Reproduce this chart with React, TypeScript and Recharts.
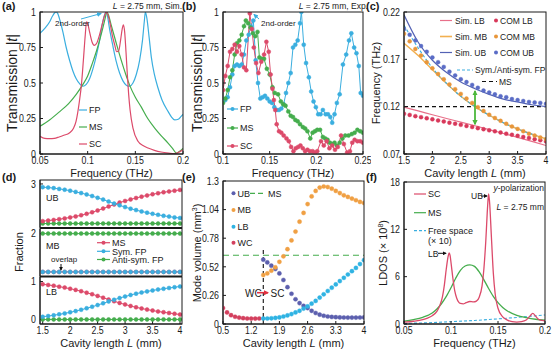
import React from 'react';
import { LineChart, Line, XAxis, YAxis, ReferenceLine } from 'recharts';

const FONT = '"Liberation Sans", Arial, Helvetica, sans-serif';
const INK = '#1a1a1a';

const BLUE = '#3aaedf';
const GREEN = '#45ad4d';
const RED = '#dc4a6a';

// (c) / (e) palette
const SIM_LB = '#e8708a';
const SIM_MB = '#f2b050';
const SIM_UB = '#5362b4';
const COM_LB = '#d8385a';
const COM_MB = '#e8963a';
const COM_UB = '#5a6cc6';
const E_UB = '#5c5fae';
const E_MB = '#f0a043';
const E_LB = '#2fb3e3';
const E_WC = '#d3405e';
const ARROW_GREEN = '#4cb83c';

// ---------- (a) simulated transmission, L = 2.75 mm ----------
const A_XTICKS = [0.05, 0.1, 0.15, 0.2];
const A_YTICKS = [0, 0.25, 0.5, 0.75, 1];
const A_FP = [
  [0.05, 0.85], [0.055, 0.885], [0.06, 0.93], [0.063, 0.97], [0.0655, 0.995], [0.0668, 1.0], [0.0685, 0.99],
  [0.071, 0.94], [0.074, 0.86], [0.0775, 0.75], [0.081, 0.66], [0.0845, 0.585], [0.088, 0.53], [0.0915, 0.495],
  [0.095, 0.477], [0.0985, 0.49], [0.102, 0.53], [0.1055, 0.6], [0.109, 0.69], [0.1125, 0.8], [0.1155, 0.92],
  [0.118, 0.985], [0.1192, 1.0], [0.1205, 0.98], [0.123, 0.88], [0.1265, 0.76], [0.13, 0.65], [0.1335, 0.57],
  [0.137, 0.515], [0.1405, 0.485], [0.144, 0.477], [0.1475, 0.5], [0.151, 0.56], [0.1545, 0.66], [0.1575, 0.8],
  [0.1595, 0.94], [0.1605, 1.0], [0.162, 0.96], [0.1645, 0.82], [0.1668, 0.68], [0.17, 0.56], [0.1738, 0.465],
  [0.178, 0.38], [0.1843, 0.3], [0.188, 0.26], [0.1913, 0.24], [0.195, 0.245], [0.198, 0.265], [0.2, 0.28],
];
const A_MS = [
  [0.05, 0.195], [0.06, 0.24], [0.07, 0.295], [0.08, 0.355], [0.088, 0.42], [0.095, 0.49], [0.1, 0.55],
  [0.105, 0.64], [0.109, 0.72], [0.1125, 0.8], [0.116, 0.89], [0.1185, 0.96], [0.12, 1.0], [0.1215, 0.985],
  [0.125, 0.9], [0.13, 0.78], [0.135, 0.665], [0.14, 0.56], [0.144, 0.485], [0.15, 0.4], [0.1563, 0.33],
  [0.163, 0.25], [0.1703, 0.183], [0.177, 0.13], [0.1843, 0.077], [0.189, 0.04], [0.193, 0.007],
  [0.1965, 0.02], [0.2, 0.04],
];
const A_SC = [
  [0.05, 0.125], [0.055, 0.11], [0.06, 0.108], [0.065, 0.11], [0.07, 0.12], [0.075, 0.132], [0.0808, 0.148],
  [0.085, 0.18], [0.0878, 0.23], [0.0913, 0.37], [0.0935, 0.49], [0.0955, 0.66], [0.0975, 0.84], [0.0988, 0.93],
  [0.1, 0.92], [0.102, 0.86], [0.1045, 0.79], [0.107, 0.765], [0.1095, 0.78], [0.1125, 0.84], [0.1155, 0.92],
  [0.118, 0.98], [0.1195, 1.0], [0.121, 0.985], [0.1235, 0.92], [0.126, 0.83], [0.1283, 0.77], [0.1305, 0.72],
  [0.1325, 0.725], [0.1345, 0.8], [0.1362, 0.88], [0.1375, 0.91], [0.1388, 0.86], [0.1402, 0.72],
  [0.1416, 0.56], [0.143, 0.42], [0.1445, 0.31], [0.1476, 0.18], [0.1528, 0.09], [0.158, 0.06],
  [0.1633, 0.042], [0.17, 0.026], [0.177, 0.014], [0.185, 0.006], [0.191, 0.002], [0.1955, 0.012], [0.2, 0.03],
];

// ---------- (b) measured transmission ----------
const B_XTICKS = [0.1, 0.15, 0.2, 0.25];
const B_YTICKS = [0, 0.25, 0.5, 0.75, 1];
const B_FP = [
  [0.1, 0.37], [0.1025, 0.38], [0.105, 0.4], [0.1075, 0.47], [0.11, 0.56], [0.1125, 0.62], [0.115, 0.63],
  [0.1175, 0.62], [0.12, 0.63], [0.1225, 0.7], [0.125, 0.8], [0.1275, 0.84], [0.13, 0.9], [0.1325, 0.94],
  [0.135, 0.66], [0.1375, 0.5], [0.14, 0.39], [0.1425, 0.4], [0.145, 0.41], [0.1475, 0.39], [0.15, 0.37],
  [0.1525, 0.36], [0.155, 0.33], [0.1575, 0.31], [0.16, 0.31], [0.1625, 0.32], [0.165, 0.35], [0.1675, 0.43],
  [0.17, 0.5], [0.1725, 0.57], [0.175, 0.75], [0.1775, 0.77], [0.18, 0.8], [0.1825, 0.92], [0.184, 1.0],
  [0.1865, 0.77], [0.189, 0.64], [0.192, 0.54], [0.1945, 0.44], [0.197, 0.37], [0.1995, 0.33], [0.202, 0.28],
  [0.2045, 0.28], [0.207, 0.31], [0.21, 0.28], [0.2125, 0.28], [0.215, 0.26], [0.217, 0.22], [0.2195, 0.28],
  [0.222, 0.36], [0.225, 0.42], [0.2285, 0.63], [0.232, 0.7], [0.235, 0.8], [0.2375, 0.85], [0.2405, 0.75],
  [0.243, 0.71], [0.2455, 0.62], [0.2475, 0.43], [0.25, 0.41],
];
const B_MS = [
  [0.1, 0.36], [0.1025, 0.39], [0.105, 0.45], [0.1075, 0.54], [0.11, 0.59], [0.1125, 0.7], [0.115, 0.78],
  [0.1175, 0.8], [0.12, 0.84], [0.1225, 0.9], [0.1245, 0.94], [0.127, 0.92], [0.1295, 0.89], [0.132, 0.85],
  [0.1345, 0.83], [0.137, 0.86], [0.139, 0.68], [0.1415, 0.67], [0.144, 0.67], [0.147, 0.6], [0.15, 0.56],
  [0.153, 0.47], [0.1555, 0.43], [0.159, 0.42], [0.162, 0.37], [0.1645, 0.35], [0.167, 0.34], [0.17, 0.3],
  [0.1725, 0.27], [0.175, 0.26], [0.1775, 0.24], [0.18, 0.23], [0.1825, 0.21], [0.1855, 0.19], [0.188, 0.18],
  [0.1905, 0.16], [0.1935, 0.11], [0.196, 0.15], [0.1985, 0.16], [0.201, 0.17], [0.204, 0.17], [0.207, 0.12],
  [0.2095, 0.11], [0.212, 0.1], [0.2145, 0.08], [0.217, 0.07], [0.2195, 0.08], [0.222, 0.06], [0.225, 0.08],
  [0.228, 0.11], [0.231, 0.13], [0.2345, 0.13], [0.238, 0.14], [0.241, 0.15], [0.244, 0.17], [0.247, 0.16],
  [0.25, 0.15],
];
const B_SC = [
  [0.1, 0.45], [0.1025, 0.55], [0.105, 0.62], [0.1075, 0.72], [0.11, 0.74], [0.1125, 0.77], [0.115, 0.72],
  [0.1175, 0.76], [0.12, 0.7], [0.1225, 0.61], [0.125, 0.59], [0.1287, 0.99], [0.131, 0.88], [0.133, 0.75],
  [0.1355, 0.64], [0.138, 0.57], [0.141, 0.65], [0.144, 0.7], [0.1465, 0.79], [0.149, 0.72], [0.151, 0.56],
  [0.153, 0.46], [0.1545, 0.38], [0.156, 0.31], [0.1575, 0.21], [0.16, 0.16], [0.1625, 0.15], [0.165, 0.13],
  [0.168, 0.11], [0.1705, 0.09], [0.173, 0.05], [0.1755, 0.02], [0.178, 0.04], [0.1805, 0.05], [0.183, 0.06],
  [0.1855, 0.04], [0.188, 0.02], [0.1905, 0.03], [0.193, 0.02], [0.196, 0.02], [0.1985, 0.01], [0.201, 0.02],
  [0.205, 0.09], [0.208, 0.06], [0.211, 0.09], [0.214, 0.04], [0.217, 0.06], [0.22, 0.03], [0.223, 0.05],
  [0.2265, 0.13], [0.2295, 0.07], [0.233, 0.01], [0.236, 0.02], [0.2385, 0.08], [0.241, 0.1], [0.244, 0.09],
  [0.247, 0.09], [0.25, 0.08],
];

// ---------- (c) dispersion vs cavity length ----------
const C_XTICKS = [1.5, 2, 2.5, 3, 3.5, 4];
const C_YTICKS = [0.07, 0.12, 0.17, 0.22];
const L_SIM = [1.5, 1.75, 2, 2.25, 2.5, 2.75, 3, 3.25, 3.5, 3.75, 4];
const C_SIM_LB = [0.1195, 0.1155, 0.1115, 0.1075, 0.1037, 0.0998, 0.0958, 0.0917, 0.0876, 0.0834, 0.079];
const C_SIM_MB = [0.187, 0.174, 0.159, 0.1445, 0.131, 0.12, 0.111, 0.103, 0.0965, 0.091, 0.086];
const C_SIM_UB = [0.217, 0.188, 0.169, 0.156, 0.146, 0.139, 0.133, 0.128, 0.125, 0.122, 0.12];
const C_FP = [0.206, 0.182, 0.161, 0.1445, 0.131, 0.12, 0.111, 0.103, 0.0965, 0.091, 0.086];
const C_MS_LEVEL = 0.12;
const L_COM = [1.5, 1.6, 1.7, 1.8, 1.9, 2.0, 2.1, 2.2, 2.3, 2.4, 2.5, 2.6, 2.7, 2.8, 2.9, 3.0, 3.1, 3.2, 3.3, 3.4, 3.5, 3.6, 3.7, 3.8, 3.9, 4.0];
const C_COM_LB = [0.1125, 0.1113, 0.11, 0.1089, 0.1077, 0.1066, 0.1054, 0.1043, 0.1031, 0.102, 0.1008, 0.0996, 0.0985, 0.0973, 0.0962, 0.095, 0.0939, 0.0927, 0.0915, 0.0904, 0.0892, 0.088, 0.0868, 0.0856, 0.0845, 0.0833];
const C_COM_MB = [0.197, 0.189, 0.181, 0.174, 0.167, 0.1605, 0.1545, 0.149, 0.1435, 0.1385, 0.1335, 0.1285, 0.124, 0.1195, 0.1155, 0.1115, 0.108, 0.105, 0.102, 0.099, 0.0965, 0.094, 0.0915, 0.0895, 0.0875, 0.0855];
const C_COM_UB = [0.202, 0.196, 0.19, 0.184, 0.178, 0.172, 0.167, 0.162, 0.157, 0.153, 0.149, 0.146, 0.143, 0.14, 0.137, 0.135, 0.133, 0.131, 0.13, 0.128, 0.127, 0.126, 0.125, 0.1245, 0.124, 0.123];

// ---------- (d) Hopfield fractions ----------
const D_XTICKS = [1.5, 2, 2.5, 3, 3.5, 4];
const D_UB_MS = [0.06, 0.075, 0.09, 0.11, 0.13, 0.155, 0.18, 0.21, 0.245, 0.285, 0.33, 0.38, 0.43, 0.48, 0.53, 0.57, 0.61, 0.645, 0.68, 0.71, 0.74, 0.765, 0.79, 0.81, 0.83, 0.85];
const D_UB_SFP = [0.92, 0.91, 0.895, 0.875, 0.855, 0.83, 0.8, 0.77, 0.735, 0.695, 0.65, 0.605, 0.555, 0.505, 0.46, 0.415, 0.375, 0.34, 0.305, 0.275, 0.245, 0.22, 0.195, 0.175, 0.155, 0.14];
const D_LB_MS = [0.93, 0.91, 0.89, 0.865, 0.84, 0.81, 0.78, 0.745, 0.705, 0.665, 0.62, 0.575, 0.525, 0.48, 0.435, 0.395, 0.355, 0.32, 0.29, 0.26, 0.235, 0.21, 0.19, 0.17, 0.15, 0.13];
const D_LB_SFP = [0.07, 0.09, 0.11, 0.135, 0.16, 0.19, 0.22, 0.255, 0.295, 0.335, 0.38, 0.425, 0.475, 0.52, 0.565, 0.605, 0.645, 0.68, 0.71, 0.74, 0.765, 0.79, 0.81, 0.83, 0.85, 0.87];
const D_ZERO = [0, 0, 0, 0, 0, 0, 0, 0, 0, 0, 0, 0, 0, 0, 0, 0, 0, 0, 0, 0, 0, 0, 0, 0, 0, 0];
const D_ONE = [1, 1, 1, 1, 1, 1, 1, 1, 1, 1, 1, 1, 1, 1, 1, 1, 1, 1, 1, 1, 1, 1, 1, 1, 1, 1];

// ---------- (e) mode volume ----------
const E_XTICKS = [0.5, 1.2, 1.9, 2.6, 3.3, 4];
const E_YTICKS = [0, 0.26, 0.52, 0.78, 1.04, 1.3];
const L_WC = [0.5, 0.6, 0.7, 0.8, 0.9, 1.0, 1.1, 1.2, 1.3, 1.4];
const E_WC_V = [0.145, 0.105, 0.08, 0.066, 0.058, 0.053, 0.05, 0.049, 0.049, 0.05];
const E_UB_V = [0.585, 0.56, 0.53, 0.5, 0.46, 0.4, 0.335, 0.275, 0.225, 0.19, 0.165, 0.145, 0.12, 0.1, 0.085, 0.075, 0.068, 0.064, 0.062, 0.06, 0.059, 0.058, 0.058, 0.058, 0.059, 0.06];
const E_MB_V = [0.445, 0.46, 0.485, 0.515, 0.565, 0.615, 0.68, 0.76, 0.84, 0.93, 1.01, 1.09, 1.16, 1.21, 1.24, 1.25, 1.245, 1.23, 1.21, 1.19, 1.17, 1.155, 1.14, 1.125, 1.11, 1.1];
const E_LB_V = [0.05, 0.05, 0.052, 0.055, 0.06, 0.068, 0.078, 0.09, 0.105, 0.12, 0.14, 0.16, 0.185, 0.21, 0.24, 0.27, 0.3, 0.33, 0.36, 0.39, 0.42, 0.45, 0.48, 0.51, 0.545, 0.58];
const E_MS_LEVEL = 0.625;
const E_BORDER_L = 1.5;

// ---------- (f) LDOS ----------
const F_XTICKS = [0.05, 0.1, 0.15, 0.2];
const F_YTICKS = [0, 6, 12, 18];
const F_SC = [
  [0.05, 0.25], [0.06, 0.35], [0.07, 0.55], [0.075, 0.75], [0.08, 1.05], [0.085, 1.6], [0.088, 2.3],
  [0.091, 3.5], [0.093, 5.0], [0.095, 7.0], [0.097, 8.6], [0.098, 9.0], [0.099, 8.7], [0.1, 7.8],
  [0.102, 5.8], [0.104, 4.2], [0.106, 3.3], [0.108, 2.8], [0.11, 2.6], [0.113, 2.55], [0.116, 2.7],
  [0.12, 2.85], [0.124, 2.8], [0.127, 2.9], [0.13, 3.4], [0.133, 4.8], [0.135, 7.0], [0.137, 10.5],
  [0.139, 15.0], [0.14, 16.5], [0.141, 15.5], [0.143, 11.0], [0.145, 6.5], [0.147, 3.8], [0.15, 2.0],
  [0.155, 0.9], [0.16, 0.5], [0.165, 0.3], [0.17, 0.25], [0.175, 0.3], [0.18, 0.5], [0.184, 1.0],
  [0.187, 1.35], [0.19, 1.0], [0.193, 0.6], [0.197, 0.45], [0.2, 0.4],
];
const F_MS = [
  [0.05, 0.35], [0.06, 0.55], [0.07, 0.85], [0.08, 1.4], [0.085, 1.9], [0.09, 2.6], [0.095, 3.5], [0.1, 4.6],
  [0.105, 5.8], [0.11, 6.8], [0.115, 7.35], [0.12, 7.5], [0.125, 7.3], [0.13, 6.6], [0.135, 5.6], [0.14, 4.5],
  [0.145, 3.5], [0.15, 2.7], [0.155, 2.1], [0.16, 1.65], [0.17, 1.1], [0.18, 0.8], [0.19, 0.6], [0.2, 0.5],
];
const F_FREE = [
  [0.05, 0.07], [0.075, 0.16], [0.1, 0.29], [0.125, 0.45], [0.15, 0.65], [0.175, 0.88], [0.2, 1.15],
];

const pairs = (p: number[][]) => p.map(([x, y]) => ({ x, y }));
const zip = (xs: number[], ys: number[]) => xs.map((x, i) => ({ x, y: ys[i] }));

type Box = { x0: number; y0: number; x1: number; y1: number };
const A_BOX: Box = { x0: 40, y0: 12, x1: 183, y1: 154 };
const B_BOX: Box = { x0: 223, y0: 12, x1: 363, y1: 154 };
const C_BOX: Box = { x0: 404, y0: 12, x1: 546, y1: 154 };
const DU_BOX: Box = { x0: 40, y0: 180, x1: 182, y1: 227.5 };
const DM_BOX: Box = { x0: 40, y0: 228.5, x1: 182, y1: 276 };
const DL_BOX: Box = { x0: 40, y0: 277, x1: 182, y1: 324 };
const E_BOX: Box = { x0: 223, y0: 181, x1: 364, y1: 324 };
const F_BOX: Box = { x0: 404, y0: 182, x1: 545, y1: 324 };

const PL = 40, PT = 6, PR = 8, PB = 22;

const fmt = (v: number) => String(v);

const makeXTick = (show: boolean) => (p: any) =>
  show ? (
    <text transform={`translate(${p.x},${p.y}) scale(0.8,1)`} dy="0.62em" textAnchor="middle" fontSize={11} fill={INK} fontFamily={FONT}>
      {fmt(p.payload.value)}
    </text>
  ) : <g />;

const makeYTick = (f: (v: number) => string) => (p: any) => (
  <text transform={`translate(${p.x},${p.y}) scale(0.8,1)`} dy="0.34em" textAnchor="end" fontSize={11} fill={INK} fontFamily={FONT}>
    {f(p.payload.value)}
  </text>
);

function Plot({ box, xDomain, yDomain, xTicks, yTicks, yFmt = fmt, showX = true, children }: any) {
  const w = box.x1 - box.x0 + PL + PR;
  const h = box.y1 - box.y0 + PT + PB;
  return (
    <div style={{ position: 'absolute', left: box.x0 - PL, top: box.y0 - PT, width: w, height: h }}>
      <LineChart width={w} height={h} margin={{ top: PT, right: PR, bottom: 0, left: 0 }}>
        <XAxis type="number" dataKey="x" domain={xDomain} ticks={xTicks} interval={0} allowDataOverflow
          height={PB} stroke={INK} tickSize={-3} tickMargin={6} tickLine={showX} tick={makeXTick(showX)} />
        <YAxis type="number" domain={yDomain} ticks={yTicks} interval={0} allowDataOverflow width={PL}
          stroke={INK} tickSize={-3} tickMargin={7} tick={makeYTick(yFmt)} />
        {children}
      </LineChart>
    </div>
  );
}

const lineProps = { dot: false, activeDot: false, isAnimationActive: false, dataKey: 'y' } as const;
const dotOnly = (c: string, r = 2) => ({
  dataKey: 'y', stroke: 'none', activeDot: false, isAnimationActive: false,
  dot: { r, fill: c, stroke: c, strokeWidth: 0.4 },
} as const);
const dotLine = (c: string, r = 2) => ({
  dataKey: 'y', type: 'linear', stroke: c, strokeWidth: 1, activeDot: false, isAnimationActive: false,
  dot: { r, fill: c, stroke: c, strokeWidth: 0.5 },
} as const);

const T = (props: any) => <text fontFamily={FONT} fill={INK} {...props} />;

function LegLine({ x, y, c, dash, label, w = 10, dot }: any) {
  return (
    <g>
      <line x1={x} y1={y} x2={x + w} y2={y} stroke={c} strokeWidth={1.2} strokeDasharray={dash} />
      {dot && <circle cx={x + w / 2} cy={y} r={2} fill={c} />}
      <T x={x + w + 2} y={y + 3.2} fontSize={9}>{label}</T>
    </g>
  );
}

function Overlay() {
  const frame = (b: Box) => (
    <rect x={b.x0} y={b.y0} width={b.x1 - b.x0} height={b.y1 - b.y0} fill="none" stroke={INK} strokeWidth={1} />
  );
  return (
    <svg width={554} height={349} style={{ position: 'absolute', left: 0, top: 0, pointerEvents: 'none' }}>
      {frame(A_BOX)}{frame(B_BOX)}{frame(C_BOX)}{frame(DU_BOX)}{frame(DM_BOX)}{frame(DL_BOX)}{frame(E_BOX)}{frame(F_BOX)}

      {/* panel letters */}
      <T x={2} y={10} fontSize={11} fontWeight="bold">(a)</T>
      <T x={182} y={10} fontSize={11} fontWeight="bold">(b)</T>
      <T x={366} y={10} fontSize={11} fontWeight="bold">(c)</T>
      <T x={2} y={181} fontSize={11} fontWeight="bold">(d)</T>
      <T x={182} y={181} fontSize={11} fontWeight="bold">(e)</T>
      <T x={366} y={181} fontSize={11} fontWeight="bold">(f)</T>

      {/* (a) */}
      <T x={182} y={9} fontSize={8.5} textAnchor="end"><tspan fontStyle="italic">L</tspan> = 2.75 mm, Sim.</T>
      <T x={55} y={26} fontSize={8}>2nd-order</T>
      <line x1={81} y1={19} x2={101} y2={13.5} stroke={BLUE} strokeWidth={1} markerEnd="url(#arB)" />
      <LegLine x={79} y={110} c={BLUE} label="FP" w={8} />
      <LegLine x={79} y={127} c={GREEN} label="MS" w={8} />
      <LegLine x={79} y={144} c={RED} label="SC" w={8} />
      <T x={111.5} y={176.5} fontSize={11} textAnchor="middle">Frequency (THz)</T>
      <T transform="translate(17,83) rotate(-90)" fontSize={14} textAnchor="middle">Transmission |<tspan fontStyle="italic">t</tspan>|</T>

      {/* (b) */}
      <T x={368} y={9} fontSize={8.5} textAnchor="end"><tspan fontStyle="italic">L</tspan> = 2.75 mm, Exp.</T>
      <T x={261} y={26} fontSize={8}>2nd-order</T>
      <line x1={259} y1={19} x2={254} y2={14.5} stroke={BLUE} strokeWidth={1} markerEnd="url(#arB)" />
      <LegLine x={227} y={109} c={BLUE} label="FP" w={11} dot />
      <LegLine x={227} y={128} c={GREEN} label="MS" w={11} dot />
      <LegLine x={227} y={146} c={RED} label="SC" w={11} dot />
      <T x={293} y={176.5} fontSize={11} textAnchor="middle">Frequency (THz)</T>
      <T transform="translate(202,83) rotate(-90)" fontSize={14} textAnchor="middle">Transmission |<tspan fontStyle="italic">t</tspan>|</T>

      {/* (c) legend */}
      <g>
        <line x1={440} y1={20.5} x2={452} y2={20.5} stroke={SIM_LB} strokeWidth={1.2} />
        <T x={455} y={23.5} fontSize={8.5}>Sim. LB</T>
        <circle cx={496} cy={20.5} r={2} fill={COM_LB} />
        <T x={500} y={23.5} fontSize={8.5}>COM LB</T>
        <line x1={440} y1={36.5} x2={452} y2={36.5} stroke={SIM_MB} strokeWidth={1.6} />
        <T x={455} y={39.5} fontSize={8.5}>Sim. MB</T>
        <circle cx={496} cy={36.5} r={2} fill={COM_MB} />
        <T x={500} y={39.5} fontSize={8.5}>COM MB</T>
        <line x1={440} y1={52.5} x2={452} y2={52.5} stroke={SIM_UB} strokeWidth={1.2} />
        <T x={455} y={55.5} fontSize={8.5}>Sim. UB</T>
        <circle cx={496} cy={52.5} r={2} fill={COM_UB} />
        <T x={500} y={55.5} fontSize={8.5}>COM UB</T>
        <line x1={457} y1={70} x2={473} y2={70} stroke={BLUE} strokeWidth={1.1} strokeDasharray="3 2" />
        <T x={475} y={73} fontSize={8.5}>Sym./Anti-sym. FP</T>
        <line x1={482} y1={81.5} x2={497} y2={81.5} stroke="#111" strokeWidth={1.1} strokeDasharray="4 3" />
        <T x={499} y={84.5} fontSize={8.5}>MS</T>
      </g>
      <T x={475} y={176.5} fontSize={11} textAnchor="middle">Cavity length <tspan fontStyle="italic">L</tspan> (mm)</T>
      <T transform="translate(380,83) rotate(-90)" fontSize={11} textAnchor="middle">Frequency (THz)</T>

      {/* (d) */}
      <T x={46} y={201} fontSize={9}>UB</T>
      <T x={46} y={249} fontSize={9}>MB</T>
      <T x={46} y={295} fontSize={9}>LB</T>
      <LegLine x={97} y={242.7} c={RED} label="MS" w={13} dot />
      <LegLine x={97} y={251.3} c={BLUE} label="Sym. FP" w={13} dot />
      <LegLine x={97} y={259.5} c={GREEN} label="Anti-sym. FP" w={13} dot />
      <T x={51} y={262} fontSize={8}>overlap</T>
      <line x1={61} y1={264} x2={61} y2={270} stroke="#111" strokeWidth={1} markerEnd="url(#arK)" />
      <T transform="translate(23,252) rotate(-90)" fontSize={11} textAnchor="middle">Fraction</T>
      <T x={111} y={347} fontSize={11} textAnchor="middle">Cavity length <tspan fontStyle="italic">L</tspan> (mm)</T>

      {/* (e) */}
      <circle cx={233.5} cy={193.3} r={2} fill={E_UB} />
      <T x={237.5} y={196.5} fontSize={9}>UB</T>
      <line x1={250} y1={193.3} x2={266} y2={193.3} stroke={GREEN} strokeWidth={1.2} strokeDasharray="5 3" />
      <T x={268} y={196.5} fontSize={9}>MS</T>
      <circle cx={233.5} cy={210} r={2} fill={E_MB} />
      <T x={237.5} y={213.2} fontSize={9}>MB</T>
      <circle cx={233.5} cy={226.7} r={2} fill={E_LB} />
      <T x={237.5} y={229.9} fontSize={9}>LB</T>
      <circle cx={233.5} cy={242.7} r={2} fill={E_WC} />
      <T x={237.5} y={245.9} fontSize={9}>WC</T>
      <T x={245} y={296.5} fontSize={10}>WC</T>
      <line x1={257} y1={292.7} x2={268} y2={292.7} stroke="#e03040" strokeWidth={1.6} markerEnd="url(#arR)" />
      <T x={270.5} y={296.5} fontSize={10}>SC</T>
      <T transform="translate(201,253) rotate(-90)" fontSize={11} textAnchor="middle">Mode volume (mm<tspan fontSize={7} dy={-4}>3</tspan><tspan dy={4}>)</tspan></T>
      <T x={293.5} y={347} fontSize={11} textAnchor="middle">Cavity length <tspan fontStyle="italic">L</tspan> (mm)</T>

      {/* (f) */}
      <LegLine x={414} y={194} c={RED} label="SC" w={12} />
      <LegLine x={414} y={212.7} c={GREEN} label="MS" w={12} />
      <LegLine x={414} y={230.7} c={BLUE} label="Free space" w={12} dash="3 2" />
      <T x={428} y={243.5} fontSize={9}>(× 10)</T>
      <T x={544} y={191} fontSize={8.5} textAnchor="end"><tspan fontStyle="italic">y</tspan>-polarization</T>
      <T x={544} y={210} fontSize={8.5} textAnchor="end"><tspan fontStyle="italic">L</tspan> = 2.75 mm</T>
      <T x={471} y={199} fontSize={8.5}>UB</T>
      <line x1={481} y1={196} x2={487} y2={196} stroke="#111" strokeWidth={1} markerEnd="url(#arK)" />
      <T x={428} y={256.5} fontSize={8.5}>LB</T>
      <line x1={438} y1={253.3} x2={446} y2={253.3} stroke="#111" strokeWidth={1} markerEnd="url(#arK)" />
      <T transform="translate(387,253) rotate(-90)" fontSize={11} textAnchor="middle">LDOS (× 10<tspan fontSize={7} dy={-4}>8</tspan><tspan dy={4}>)</tspan></T>
      <T x={474.5} y={347} fontSize={11} textAnchor="middle">Frequency (THz)</T>
    </svg>
  );
}

export default function App() {
  return (
    <div style={{ position: 'absolute', left: 0, top: 0, width: 554, height: 349, background: '#fff', fontFamily: FONT }}>
      <svg width={0} height={0} style={{ position: 'absolute' }}>
        <defs>
          <marker id="arB" viewBox="0 0 10 10" refX="8" refY="5" markerWidth="5" markerHeight="5" orient="auto-start-reverse">
            <path d="M0,0 L10,5 L0,10 z" fill={BLUE} />
          </marker>
          <marker id="arK" viewBox="0 0 10 10" refX="8" refY="5" markerWidth="4" markerHeight="4" orient="auto-start-reverse">
            <path d="M0,0 L10,5 L0,10 z" fill="#111" />
          </marker>
          <marker id="arR" viewBox="0 0 10 10" refX="8" refY="5" markerWidth="3.5" markerHeight="3.5" orient="auto-start-reverse">
            <path d="M0,0 L10,5 L0,10 z" fill="#e03040" />
          </marker>
          <marker id="arG" viewBox="0 0 10 10" refX="8" refY="5" markerWidth="3" markerHeight="3" orient="auto-start-reverse">
            <path d="M0,0 L10,5 L0,10 z" fill={ARROW_GREEN} />
          </marker>
        </defs>
      </svg>

      {/* (a) */}
      <Plot box={A_BOX} xDomain={[0.05, 0.2]} yDomain={[0, 1]} xTicks={A_XTICKS} yTicks={A_YTICKS}>
        <Line {...lineProps} data={pairs(A_FP)} type="monotone" stroke={BLUE} strokeWidth={1.2} />
        <Line {...lineProps} data={pairs(A_MS)} type="monotone" stroke={GREEN} strokeWidth={1.2} />
        <Line {...lineProps} data={pairs(A_SC)} type="monotone" stroke={RED} strokeWidth={1.2} />
      </Plot>

      {/* (b) */}
      <Plot box={B_BOX} xDomain={[0.1, 0.25]} yDomain={[0, 1]} xTicks={B_XTICKS} yTicks={B_YTICKS}>
        <Line {...dotLine(BLUE)} data={pairs(B_FP)} />
        <Line {...dotLine(GREEN)} data={pairs(B_MS)} />
        <Line {...dotLine(RED)} data={pairs(B_SC)} />
      </Plot>

      {/* (c) */}
      <Plot box={C_BOX} xDomain={[1.5, 4]} yDomain={[0.07, 0.22]} xTicks={C_XTICKS} yTicks={C_YTICKS}>
        <ReferenceLine y={C_MS_LEVEL} stroke="#111" strokeWidth={1.1} strokeDasharray="4 3" />
        <Line {...lineProps} data={zip(L_SIM, C_SIM_LB)} type="monotone" stroke={SIM_LB} strokeWidth={1.2} />
        <Line {...lineProps} data={zip(L_SIM, C_SIM_MB)} type="monotone" stroke={SIM_MB} strokeWidth={1.4} />
        <Line {...lineProps} data={zip(L_SIM, C_SIM_UB)} type="monotone" stroke={SIM_UB} strokeWidth={1.2} />
        <Line {...lineProps} data={zip(L_SIM, C_FP)} type="monotone" stroke={BLUE} strokeWidth={1.1} strokeDasharray="3 2" />
        <Line {...dotOnly(COM_LB)} data={zip(L_COM, C_COM_LB)} />
        <Line {...dotOnly(COM_MB)} data={zip(L_COM, C_COM_MB)} />
        <Line {...dotOnly(COM_UB)} data={zip(L_COM, C_COM_UB)} />
        <ReferenceLine
          segment={[{ x: 2.75, y: 0.1015 }, { x: 2.75, y: 0.1365 }]}
          shape={(p: any) => (
            <line x1={p.x1} y1={p.y1} x2={p.x2} y2={p.y2} stroke={ARROW_GREEN} strokeWidth={1.8}
              markerStart="url(#arG)" markerEnd="url(#arG)" />
          )}
        />
      </Plot>

      {/* (d) three stacked sub-panels */}
      <Plot box={DU_BOX} xDomain={[1.451, 4.036]} yDomain={[-0.1, 1.1]} xTicks={D_XTICKS} yTicks={[1]} yFmt={() => '3'} showX={false}>
        <Line {...dotLine(GREEN)} data={zip(L_COM, D_ZERO)} />
        <Line {...dotLine(RED)} data={zip(L_COM, D_UB_MS)} />
        <Line {...dotLine(BLUE)} data={zip(L_COM, D_UB_SFP)} />
      </Plot>
      <Plot box={DM_BOX} xDomain={[1.451, 4.036]} yDomain={[-0.12, 1.12]} xTicks={D_XTICKS} yTicks={[1]} yFmt={() => '2'} showX={false}>
        <Line {...dotLine(GREEN)} data={zip(L_COM, D_ONE)} />
        <Line {...dotLine(RED)} data={zip(L_COM, D_ZERO)} />
        <Line {...dotLine(BLUE)} data={zip(L_COM, D_ZERO)} />
      </Plot>
      <Plot box={DL_BOX} xDomain={[1.451, 4.036]} yDomain={[-0.12, 1.12]} xTicks={D_XTICKS} yTicks={[0, 1]}>
        <Line {...dotLine(GREEN)} data={zip(L_COM, D_ZERO)} />
        <Line {...dotLine(RED)} data={zip(L_COM, D_LB_MS)} />
        <Line {...dotLine(BLUE)} data={zip(L_COM, D_LB_SFP)} />
      </Plot>

      {/* (e) */}
      <Plot box={E_BOX} xDomain={[0.5, 4]} yDomain={[0, 1.3]} xTicks={E_XTICKS} yTicks={E_YTICKS}>
        <ReferenceLine y={E_MS_LEVEL} stroke={GREEN} strokeWidth={1.2} strokeDasharray="6 4" />
        <ReferenceLine segment={[{ x: E_BORDER_L, y: 0 }, { x: E_BORDER_L, y: 0.68 }]} stroke="#111" strokeWidth={1.1} strokeDasharray="4 3" />
        <Line {...dotOnly(E_WC, 2.1)} data={zip(L_WC, E_WC_V)} />
        <Line {...dotOnly(E_UB, 2.1)} data={zip(L_COM, E_UB_V)} />
        <Line {...dotOnly(E_MB, 2.1)} data={zip(L_COM, E_MB_V)} />
        <Line {...dotOnly(E_LB, 2.1)} data={zip(L_COM, E_LB_V)} />
      </Plot>

      {/* (f) */}
      <Plot box={F_BOX} xDomain={[0.05, 0.2]} yDomain={[0, 18]} xTicks={F_XTICKS} yTicks={F_YTICKS}>
        <Line {...lineProps} data={pairs(F_FREE)} type="monotone" stroke={BLUE} strokeWidth={1.1} strokeDasharray="3 2" />
        <Line {...lineProps} data={pairs(F_MS)} type="monotone" stroke={GREEN} strokeWidth={1.3} />
        <Line {...lineProps} data={pairs(F_SC)} type="monotone" stroke={RED} strokeWidth={1.3} />
      </Plot>

      <Overlay />
    </div>
  );
}
